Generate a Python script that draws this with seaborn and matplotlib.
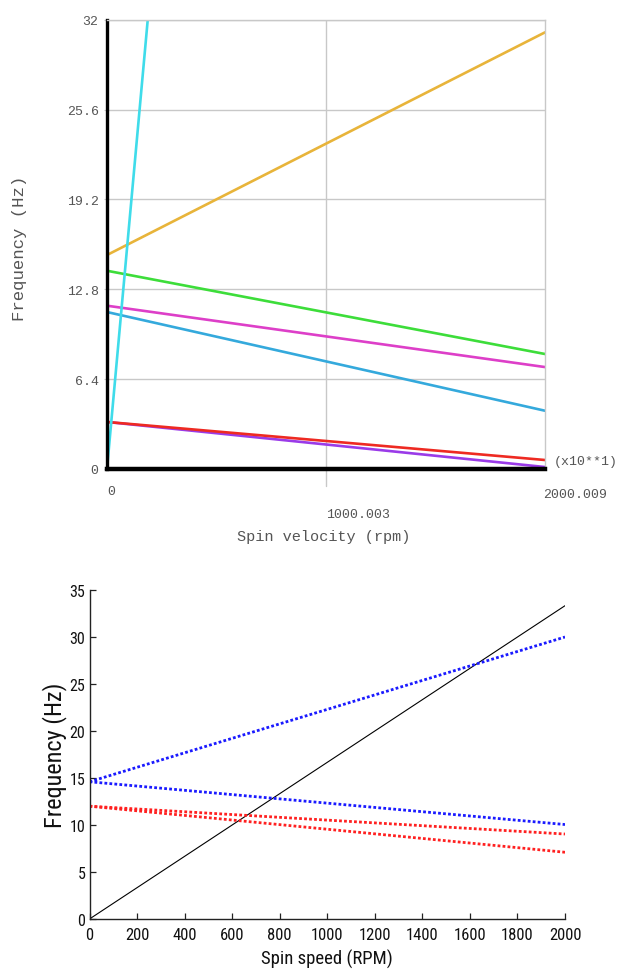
import matplotlib
matplotlib.use("Agg")
import matplotlib.pyplot as plt
import seaborn as sns
import pandas as pd

# ---- Top panel: Campbell diagram from the FE solver ----
top_speed = [0, 2000]
top_series = {
    "whirl_1x": [0.0, 344.0],
    "mode_fw3": [15.24, 31.1],
    "mode_bw3": [14.12, 8.19],
    "mode_bw2b": [11.63, 7.26],
    "mode_bw2a": [11.18, 4.15],
    "mode_bw1a": [3.35, 0.64],
    "mode_bw1b": [3.35, 0.14],
}
top_colors = {
    "mode_bw1b": "#9a3be8",
    "mode_bw1a": "#ee2a22",
    "mode_bw2a": "#34a9dc",
    "mode_bw2b": "#dd3fc8",
    "mode_bw3": "#3ddd3a",
    "mode_fw3": "#e8b43a",
    "whirl_1x": "#3fdcea",
}
top_draw_order = ["mode_bw1b", "mode_bw1a", "mode_bw2a", "mode_bw2b",
                  "mode_bw3", "mode_fw3", "whirl_1x"]
top_yticks = [0, 6.4, 12.8, 19.2, 25.6, 32]
top_ytick_labels = ["0", "6.4", "12.8", "19.2", "25.6", "32"]
top_xtick_labels = ["0", "1000.003", "2000.009"]

# ---- Bottom panel: analytical Campbell diagram ----
bot_speed = [0, 2000]
bot_excitation = [0.0, 33.33]
bot_blue_fw = [14.6, 30.0]
bot_blue_bw = [14.6, 10.05]
bot_red_a = [12.0, 9.04]
bot_red_b = [12.0, 7.1]
bot_yticks = [0, 5, 10, 15, 20, 25, 30, 35]
bot_xticks = [0, 200, 400, 600, 800, 1000, 1200, 1400, 1600, 1800, 2000]

sns.set_theme(style="white")
plt.rcParams["font.family"] = ["DejaVu Sans"]

W, H = 621, 979
fig = plt.figure(figsize=(W / 100, H / 100), dpi=100)


def px_axes(left, right, top, bottom):
    return fig.add_axes([left / W, 1 - bottom / H, (right - left) / W, (bottom - top) / H])


mono = ["Liberation Mono", "DejaVu Sans Mono"]
grey_txt = "#555555"
tick_fs = 9.5

# ---------- top ----------
ax1 = px_axes(107, 545, 20.7, 470)
ax1.set_xlim(0, 2000)
ax1.set_ylim(0, 32)
for y in top_yticks[1:]:
    ax1.axhline(y, color="#c8c8c8", lw=1.0, zorder=0)
ax1.axvline(1000, color="#c8c8c8", lw=1.0, zorder=0)
for name in top_draw_order:
    df = pd.DataFrame({"x": top_speed, "y": top_series[name]})
    sns.lineplot(data=df, x="x", y="y", ax=ax1, color=top_colors[name],
                 lw=1.9, zorder=3)
for s in ["top", "right"]:
    ax1.spines[s].set_color("#c8c8c8")
    ax1.spines[s].set_linewidth(1.0)
ax1.spines["left"].set_color("black")
ax1.spines["left"].set_linewidth(2.4)
ax1.spines["bottom"].set_color("black")
ax1.spines["bottom"].set_linewidth(3.2)
for s in ax1.spines.values():
    s.set_zorder(4)
ax1.set_yticks(top_yticks)
ax1.set_yticklabels(top_ytick_labels, family=mono, fontsize=tick_fs, color=grey_txt)
ax1.tick_params(axis="y", length=2, width=0.8, color="#c8c8c8", pad=4, left=True)
ax1.set_xticks([])
ax1.set_xlabel("")
ax1.set_ylabel("")
ax1.text(0, -1.6, top_xtick_labels[0], family=mono, fontsize=tick_fs, color=grey_txt,
         ha="left", va="center")
ax1.text(1000, -3.2, top_xtick_labels[1], family=mono, fontsize=tick_fs, color=grey_txt,
         ha="left", va="center")
ax1.text(1990, -1.8, top_xtick_labels[2], family=mono, fontsize=tick_fs, color=grey_txt,
         ha="left", va="center")
ax1.text(2040, 0.6, "(x10**1)", family=mono, fontsize=tick_fs, color=grey_txt,
         ha="left", va="center")
ax1.plot([1000, 1000], [0, -1.2], color="#c8c8c8", lw=1.0, clip_on=False)
ax1.text(990, -4.8, "Spin velocity (rpm)", family=mono, fontsize=11,
         color=grey_txt, ha="center", va="center")
ax1.text(-400, 15.8, "Frequency (Hz)", family=mono, fontsize=12.5, color=grey_txt,
         ha="center", va="center", rotation=90)

# ---------- bottom ----------
narrow = ["Roboto Condensed", "Liberation Sans Narrow", "Liberation Sans", "DejaVu Sans"]
ax2 = px_axes(89.5, 565, 591, 920)
ax2.set_xlim(0, 2000)
ax2.set_ylim(0, 35)
dotted = (0, (1, 0.8))
sns.lineplot(x=bot_speed, y=bot_excitation, ax=ax2, color="black", lw=0.8)
sns.lineplot(x=bot_speed, y=bot_blue_fw, ax=ax2, color="#1a1aff", lw=2.0, linestyle=dotted)
sns.lineplot(x=bot_speed, y=bot_blue_bw, ax=ax2, color="#1a1aff", lw=2.0, linestyle=dotted)
sns.lineplot(x=bot_speed, y=bot_red_a, ax=ax2, color="#ff2020", lw=2.0, linestyle=dotted)
sns.lineplot(x=bot_speed, y=bot_red_b, ax=ax2, color="#ff2020", lw=2.0, linestyle=dotted)
for s in ["top", "right"]:
    ax2.spines[s].set_visible(False)
for s in ["left", "bottom"]:
    ax2.spines[s].set_color("#222222")
    ax2.spines[s].set_linewidth(1.0)
ax2.set_xticks(bot_xticks)
ax2.set_yticks(bot_yticks)
ax2.set_xticklabels([str(v) for v in bot_xticks], family=narrow, fontsize=12, color="#111111")
ax2.set_yticklabels([str(v) for v in bot_yticks], family=narrow, fontsize=11.5, color="#111111")
ax2.tick_params(axis="both", direction="in", length=4, width=0.9, color="#222222",
                bottom=True, left=True)
ax2.tick_params(axis="x", pad=6)
ax2.tick_params(axis="y", pad=3)
ax2.set_xlabel("Spin speed (RPM)", family=narrow, fontsize=13.5, color="#111111", labelpad=5)
ax2.set_ylabel("Frequency (Hz)", family=narrow, fontsize=17.5, color="#111111", labelpad=2)

fig.savefig("out.png", dpi=100)
